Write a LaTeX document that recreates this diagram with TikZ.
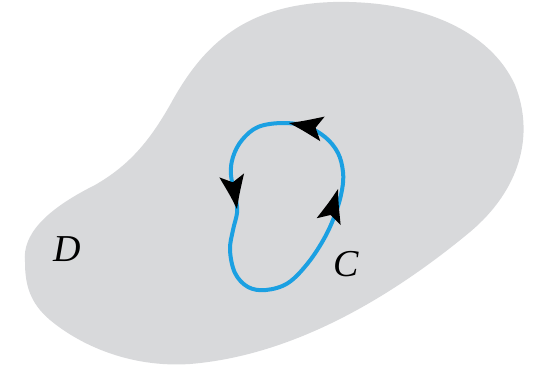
\documentclass[tikz,border=0pt]{standalone}
\usepackage{fontspec}
\setmainfont{Liberation Serif}
\definecolor{blobgray}{RGB}{216,217,219}
\definecolor{cblue}{RGB}{27,160,226}
\tikzset{
  blob/.style={fill=blobgray},
  loopline/.style={draw=cblue, line width=4pt},
  lbl/.style={font=\fontsize{38}{38}\selectfont\itshape, inner sep=0pt},
  arrowhd/.pic={\fill[black] (0,0) .. controls (-14,4.5) .. (-34,12.5) -- (-27,0) -- (-34,-12.5) .. controls (-14,-4.5) .. (0,0) -- cycle;}
}
\begin{document}
\begin{tikzpicture}[x=1pt,y=-1pt]
\useasboundingbox (0,0) rectangle (538,370);
\fill[blob] (25,262)
  .. controls (22,235) and (45,210) .. (95,185)
  .. controls (130,165) and (150,140) .. (170,105)
  .. controls (200,50) and (240,5) .. (333,2)
  .. controls (420,0) and (490,30) .. (515,85)
  .. controls (535,135) and (520,190) .. (470,232)
  .. controls (400,290) and (300,355) .. (190,364)
  .. controls (130,368) and (80,345) .. (50,320)
  .. controls (30,303) and (25,285) .. (25,262) -- cycle;
\draw[loopline] plot[smooth cycle, tension=0.6] coordinates {
 (282,123) (258,127) (242,140) (233,157) (231,175) (236,200) (237,213)
 (233,230) (230,250) (235,273) (248,287) (266,290) (288,283) (308,263)
 (325,237) (336,212) (342,190) (343,172) (338,153) (325,137) (305,126)};
\pic[rotate=170] at (289,123) {arrowhd};
\pic[rotate=-81] at (237,209) {arrowhd};
\pic[rotate=74] at (338,189) {arrowhd};
\node[lbl] (D) at (67,249) {D};
\node[lbl] (C) at (346,264) {C};
\end{tikzpicture}
\end{document}
